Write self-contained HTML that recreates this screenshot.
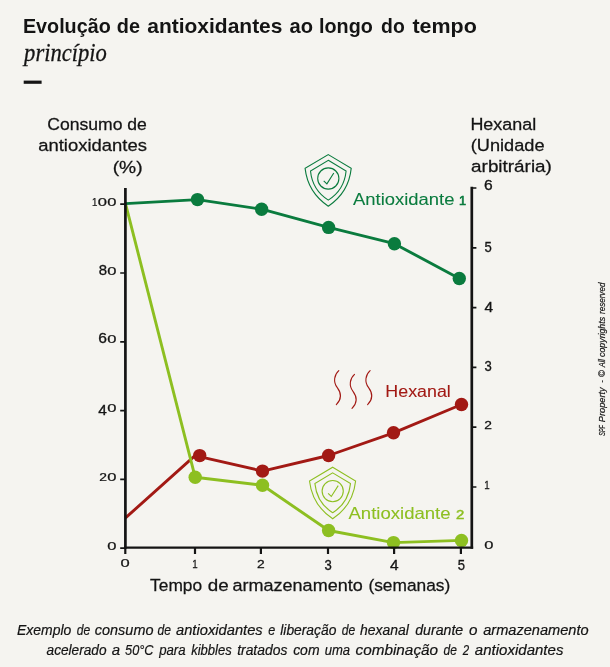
<!DOCTYPE html>
<html lang="pt"><head><meta charset="utf-8"><title>Evolução de antioxidantes ao longo do tempo</title>
<style>
html,body{margin:0;padding:0;background:#f5f4f0;}
body{width:610px;height:667px;overflow:hidden;font-family:"Liberation Sans",sans-serif;}
svg{display:block;will-change:transform}
text{font-family:"Liberation Sans",sans-serif;}
.serif{font-family:"Liberation Serif",serif;font-style:italic;}
.b{font-weight:bold}
.i{font-style:italic}
</style></head><body>
<svg width="610" height="667" viewBox="0 0 610 667">
<rect width="610" height="667" fill="#f5f4f0"/>

<text x="22.88" y="32.7" font-size="20.8" fill="#141414" textLength="87.89" lengthAdjust="spacingAndGlyphs" class="b">Evolução</text>
<text x="116.78" y="32.7" font-size="20.8" fill="#141414" textLength="23.19" lengthAdjust="spacingAndGlyphs" class="b">de</text>
<text x="147.29" y="32.7" font-size="20.8" fill="#141414" textLength="135.17" lengthAdjust="spacingAndGlyphs" class="b">antioxidantes</text>
<text x="289.61" y="32.7" font-size="20.8" fill="#141414" textLength="23.48" lengthAdjust="spacingAndGlyphs" class="b">ao</text>
<text x="319.02" y="32.7" font-size="20.8" fill="#141414" textLength="53.75" lengthAdjust="spacingAndGlyphs" class="b">longo</text>
<text x="381.11" y="32.7" font-size="20.8" fill="#141414" textLength="23.65" lengthAdjust="spacingAndGlyphs" class="b">do</text>
<text x="412.44" y="32.7" font-size="20.8" fill="#141414" textLength="64.40" lengthAdjust="spacingAndGlyphs" class="b">tempo</text>
<text x="24.12" y="61.1" font-size="25.5" fill="#141414" stroke="#141414" stroke-width="0.3" textLength="82.75" lengthAdjust="spacingAndGlyphs" class="serif">princípio</text>
<rect x="23.7" y="80.6" width="17.9" height="3.2" fill="#141414"/>
<text x="47.21" y="130.0" font-size="17.4" fill="#141414" stroke="#141414" stroke-width="0.27" textLength="99.67" lengthAdjust="spacingAndGlyphs">Consumo de</text>
<text x="38.22" y="151.1" font-size="17.4" fill="#141414" stroke="#141414" stroke-width="0.27" textLength="108.65" lengthAdjust="spacingAndGlyphs">antioxidantes</text>
<text x="112.71" y="172.5" font-size="17.4" fill="#141414" stroke="#141414" stroke-width="0.27" textLength="29.88" lengthAdjust="spacingAndGlyphs">(%)</text>
<text x="470.43" y="130.0" font-size="17.4" fill="#141414" stroke="#141414" stroke-width="0.27" textLength="65.77" lengthAdjust="spacingAndGlyphs">Hexanal</text>
<text x="470.77" y="151.1" font-size="17.4" fill="#141414" stroke="#141414" stroke-width="0.27" textLength="73.84" lengthAdjust="spacingAndGlyphs">(Unidade</text>
<text x="471.10" y="172.3" font-size="17.4" fill="#141414" stroke="#141414" stroke-width="0.27" textLength="80.77" lengthAdjust="spacingAndGlyphs">arbitrária)</text>
<polyline points="125.5,517.9 195.0,455.6 262.5,471.1 328.6,455.5 393.5,432.8 461.5,404.5" fill="none" stroke="#a21914" stroke-width="2.9" stroke-linejoin="round"/>
<polyline points="125.5,203.6 195.2,477.3 262.5,485.3 328.6,530.5 393.5,542.6 461.5,540.4" fill="none" stroke="#8dbf21" stroke-width="2.9" stroke-linejoin="round"/>
<polyline points="125.5,203.6 197.5,199.6 261.6,209.2 328.6,227.4 394.4,243.7 459.3,278.5" fill="none" stroke="#0a7b3e" stroke-width="2.9" stroke-linejoin="round"/>
<circle cx="195.2" cy="477.3" r="6.7" fill="#8dbf21"/><circle cx="262.5" cy="485.3" r="6.7" fill="#8dbf21"/><circle cx="328.6" cy="530.5" r="6.7" fill="#8dbf21"/><circle cx="393.5" cy="542.6" r="6.7" fill="#8dbf21"/><circle cx="461.5" cy="540.4" r="6.7" fill="#8dbf21"/>
<circle cx="199.7" cy="455.6" r="6.7" fill="#a21914"/><circle cx="262.5" cy="471.1" r="6.7" fill="#a21914"/><circle cx="328.6" cy="455.5" r="6.7" fill="#a21914"/><circle cx="393.5" cy="432.8" r="6.7" fill="#a21914"/><circle cx="461.5" cy="404.5" r="6.7" fill="#a21914"/>
<circle cx="197.5" cy="199.6" r="6.7" fill="#0a7b3e"/><circle cx="261.6" cy="209.2" r="6.7" fill="#0a7b3e"/><circle cx="328.6" cy="227.4" r="6.7" fill="#0a7b3e"/><circle cx="394.4" cy="243.7" r="6.7" fill="#0a7b3e"/><circle cx="459.3" cy="278.5" r="6.7" fill="#0a7b3e"/>
<path d="M125.4,188.1 V548.8000000000001 M471.8,186.8 V548.8000000000001" fill="none" stroke="#141414" stroke-width="2.7"/>
<path d="M124.05000000000001,547.7 H473.15000000000003" fill="none" stroke="#141414" stroke-width="2.2"/>
<path d="M120.2,204.2 H125.4 M120.2,273.0 H125.4 M120.2,341.8 H125.4 M120.2,410.6 H125.4 M120.2,479.4 H125.4 M120.2,548.2 H125.4 M471.8,188.0 H476.4 M471.8,247.8 H476.4 M471.8,307.6 H476.4 M471.8,367.4 H476.4 M471.8,427.2 H476.4 M471.8,487.0 H476.4" fill="none" stroke="#141414" stroke-width="1.7"/>
<path d="M125.3,547.7 V553.9 M195,547.7 V553.9 M260.9,547.7 V553.9 M328,547.7 V553.9 M394.1,547.7 V553.9 M460.9,547.7 V553.9" fill="none" stroke="#141414" stroke-width="2.2"/>
<text transform="matrix(0.9741,0,0,1.0901,92.06,205.90)" font-size="10" fill="#141414" stroke="#141414" stroke-width="0.22">1</text><text transform="matrix(1.6526,0,0,1.0593,97.80,205.80)" font-size="10" fill="#141414" stroke="#141414" stroke-width="0.22">0</text><text transform="matrix(1.6526,0,0,1.0593,107.15,205.80)" font-size="10" fill="#141414" stroke="#141414" stroke-width="0.22">0</text>
<text transform="matrix(1.4918,0,0,1.4265,98.70,274.56)" font-size="10" fill="#141414" stroke="#141414" stroke-width="0.22">8</text><text transform="matrix(1.6526,0,0,1.0593,107.15,274.60)" font-size="10" fill="#141414" stroke="#141414" stroke-width="0.22">0</text>
<text transform="matrix(1.5604,0,0,1.4265,98.36,343.36)" font-size="10" fill="#141414" stroke="#141414" stroke-width="0.22">6</text><text transform="matrix(1.6526,0,0,1.0593,107.15,343.40)" font-size="10" fill="#141414" stroke="#141414" stroke-width="0.22">0</text>
<text transform="matrix(1.5479,0,0,1.4971,98.19,414.70)" font-size="10" fill="#141414" stroke="#141414" stroke-width="0.22">4</text><text transform="matrix(1.6526,0,0,1.0593,107.15,412.20)" font-size="10" fill="#141414" stroke="#141414" stroke-width="0.22">0</text>
<text transform="matrix(1.3829,0,0,1.0741,99.35,481.10)" font-size="10" fill="#141414" stroke="#141414" stroke-width="0.22">2</text><text transform="matrix(1.6526,0,0,1.0593,107.15,481.00)" font-size="10" fill="#141414" stroke="#141414" stroke-width="0.22">0</text>
<text transform="matrix(1.6526,0,0,1.0593,107.15,549.80)" font-size="10" fill="#141414" stroke="#141414" stroke-width="0.22">0</text>
<text transform="matrix(1.5604,0,0,1.4265,484.11,189.61)" font-size="10" fill="#141414" stroke="#141414" stroke-width="0.22">6</text>
<text transform="matrix(1.3077,0,0,1.4762,484.38,251.81)" font-size="10" fill="#141414" stroke="#141414" stroke-width="0.22">5</text>
<text transform="matrix(1.5479,0,0,1.4971,484.54,311.75)" font-size="10" fill="#141414" stroke="#141414" stroke-width="0.22">4</text>
<text transform="matrix(1.3077,0,0,1.4548,484.40,371.41)" font-size="10" fill="#141414" stroke="#141414" stroke-width="0.22">3</text>
<text transform="matrix(1.3829,0,0,1.1457,484.20,428.95)" font-size="10" fill="#141414" stroke="#141414" stroke-width="0.22">2</text>
<text transform="matrix(0.9741,0,0,1.1628,484.16,488.75)" font-size="10" fill="#141414" stroke="#141414" stroke-width="0.22">1</text>
<text transform="matrix(1.6526,0,0,1.1299,484.25,548.84)" font-size="10" fill="#141414" stroke="#141414" stroke-width="0.22">0</text>
<text transform="matrix(1.6526,0,0,1.1299,120.50,567.39)" font-size="10" fill="#141414" stroke="#141414" stroke-width="0.22">0</text>
<text transform="matrix(0.9741,0,0,1.1628,192.26,567.50)" font-size="10" fill="#141414" stroke="#141414" stroke-width="0.22">1</text>
<text transform="matrix(1.3829,0,0,1.1457,257.05,567.50)" font-size="10" fill="#141414" stroke="#141414" stroke-width="0.22">2</text>
<text transform="matrix(1.3077,0,0,1.4548,324.40,569.76)" font-size="10" fill="#141414" stroke="#141414" stroke-width="0.22">3</text>
<text transform="matrix(1.5479,0,0,1.4971,389.94,569.90)" font-size="10" fill="#141414" stroke="#141414" stroke-width="0.22">4</text>
<text transform="matrix(1.3077,0,0,1.4762,457.78,569.76)" font-size="10" fill="#141414" stroke="#141414" stroke-width="0.22">5</text>
<text x="150.12" y="591.0" font-size="17.4" fill="#141414" stroke="#141414" stroke-width="0.27" textLength="51.98" lengthAdjust="spacingAndGlyphs">Tempo</text>
<text x="207.71" y="591.0" font-size="17.4" fill="#141414" stroke="#141414" stroke-width="0.27" textLength="20.93" lengthAdjust="spacingAndGlyphs">de</text>
<text x="232.53" y="591.0" font-size="17.4" fill="#141414" stroke="#141414" stroke-width="0.27" textLength="130.22" lengthAdjust="spacingAndGlyphs">armazenamento</text>
<text x="368.43" y="591.0" font-size="17.4" fill="#141414" stroke="#141414" stroke-width="0.27" textLength="81.85" lengthAdjust="spacingAndGlyphs">(semanas)</text>
<text x="353.06" y="205.4" font-size="16.5" fill="#0a7b3e" stroke="#0a7b3e" stroke-width="0.08" textLength="101.46" lengthAdjust="spacingAndGlyphs">Antioxidante</text>
<text transform="matrix(1.2757,0,0,1.2355,458.93,205.40)" font-size="10" fill="#0a7b3e" stroke="#0a7b3e" stroke-width="0.5">1</text>
<text x="385.34" y="396.5" font-size="16.5" fill="#a21914" stroke="#a21914" stroke-width="0.08" textLength="65.46" lengthAdjust="spacingAndGlyphs">Hexanal</text>
<text x="348.46" y="518.6" font-size="16.5" fill="#8dbf21" stroke="#8dbf21" stroke-width="0.08" textLength="102.16" lengthAdjust="spacingAndGlyphs">Antioxidante</text>
<text transform="matrix(1.4926,0,0,1.2746,456.05,518.60)" font-size="10" fill="#8dbf21" stroke="#8dbf21" stroke-width="0.35">2</text>
<g transform="translate(0,0)" fill="none" stroke="#0a7b3e" stroke-width="1.1" stroke-linejoin="miter">
<path d="M328.3,154.6 L351.2,168.4 C349.5,185 342,197 328.3,206.2 C314.6,197 307,185 305.1,168.4 Z"/>
<path d="M328.3,160.3 L346.1,171 C344.8,184 338.8,193.5 328.3,200.1 C317.8,193.5 311.8,184 310.5,171 Z"/>
<circle cx="328.3" cy="178.5" r="10.6"/>
<path d="M323.7,180.8 L326.9,183.9 L333.8,173"/>
</g>
<g transform="translate(4.4,312.6)" fill="none" stroke="#8dbf21" stroke-width="1.1" stroke-linejoin="miter">
<path d="M328.3,154.6 L351.2,168.4 C349.5,185 342,197 328.3,206.2 C314.6,197 307,185 305.1,168.4 Z"/>
<path d="M328.3,160.3 L346.1,171 C344.8,184 338.8,193.5 328.3,200.1 C317.8,193.5 311.8,184 310.5,171 Z"/>
<circle cx="328.3" cy="178.5" r="10.6"/>
<path d="M323.7,180.8 L326.9,183.9 L333.8,173"/>
</g>
<g fill="none" stroke="#a21914" stroke-width="1.1" stroke-linecap="round"><path d="M338.8,370.7 c-4.5,4 -6,11 -1.5,17 c4.5,6 4,12 -1,17"/><path d="M354.5,374.4 c-4.5,4 -6,11 -1.5,17 c4.5,6 4,12 -1,17"/><path d="M370.1,370.7 c-4.5,4 -6,11 -1.5,17 c4.5,6 4,12 -1,17"/></g>
<text x="17.07" y="635.1" font-size="14.5" fill="#141414" stroke="#141414" stroke-width="0.2" textLength="54.27" lengthAdjust="spacingAndGlyphs" class="i">Exemplo</text>
<text x="76.79" y="635.1" font-size="14.5" fill="#141414" stroke="#141414" stroke-width="0.2" textLength="13.46" lengthAdjust="spacingAndGlyphs" class="i">de</text>
<text x="94.83" y="635.1" font-size="14.5" fill="#141414" stroke="#141414" stroke-width="0.2" textLength="58.63" lengthAdjust="spacingAndGlyphs" class="i">consumo</text>
<text x="157.59" y="635.1" font-size="14.5" fill="#141414" stroke="#141414" stroke-width="0.2" textLength="13.46" lengthAdjust="spacingAndGlyphs" class="i">de</text>
<text x="175.97" y="635.1" font-size="14.5" fill="#141414" stroke="#141414" stroke-width="0.2" textLength="86.73" lengthAdjust="spacingAndGlyphs" class="i">antioxidantes</text>
<text x="268.18" y="635.1" font-size="14.5" fill="#141414" stroke="#141414" stroke-width="0.2" textLength="6.99" lengthAdjust="spacingAndGlyphs" class="i">e</text>
<text x="280.28" y="635.1" font-size="14.5" fill="#141414" stroke="#141414" stroke-width="0.2" textLength="56.06" lengthAdjust="spacingAndGlyphs" class="i">liberação</text>
<text x="341.79" y="635.1" font-size="14.5" fill="#141414" stroke="#141414" stroke-width="0.2" textLength="13.46" lengthAdjust="spacingAndGlyphs" class="i">de</text>
<text x="360.07" y="635.1" font-size="14.5" fill="#141414" stroke="#141414" stroke-width="0.2" textLength="48.82" lengthAdjust="spacingAndGlyphs" class="i">hexanal</text>
<text x="415.22" y="635.1" font-size="14.5" fill="#141414" stroke="#141414" stroke-width="0.2" textLength="48.00" lengthAdjust="spacingAndGlyphs" class="i">durante</text>
<text x="469.00" y="635.1" font-size="14.5" fill="#141414" stroke="#141414" stroke-width="0.2" textLength="8.48" lengthAdjust="spacingAndGlyphs" class="i">o</text>
<text x="483.17" y="635.1" font-size="14.5" fill="#141414" stroke="#141414" stroke-width="0.2" textLength="105.49" lengthAdjust="spacingAndGlyphs" class="i">armazenamento</text>
<text x="46.59" y="655.1" font-size="14.5" fill="#141414" stroke="#141414" stroke-width="0.2" textLength="59.94" lengthAdjust="spacingAndGlyphs" class="i">acelerado</text>
<text x="111.76" y="655.1" font-size="14.5" fill="#141414" stroke="#141414" stroke-width="0.2" textLength="8.35" lengthAdjust="spacingAndGlyphs" class="i">a</text>
<text x="125.11" y="655.1" font-size="14.5" fill="#141414" stroke="#141414" stroke-width="0.2" textLength="28.42" lengthAdjust="spacingAndGlyphs" class="i">50°C</text>
<text x="159.13" y="655.1" font-size="14.5" fill="#141414" stroke="#141414" stroke-width="0.2" textLength="26.42" lengthAdjust="spacingAndGlyphs" class="i">para</text>
<text x="191.18" y="655.1" font-size="14.5" fill="#141414" stroke="#141414" stroke-width="0.2" textLength="40.58" lengthAdjust="spacingAndGlyphs" class="i">kibbles</text>
<text x="237.17" y="655.1" font-size="14.5" fill="#141414" stroke="#141414" stroke-width="0.2" textLength="50.22" lengthAdjust="spacingAndGlyphs" class="i">tratados</text>
<text x="293.14" y="655.1" font-size="14.5" fill="#141414" stroke="#141414" stroke-width="0.2" textLength="26.41" lengthAdjust="spacingAndGlyphs" class="i">com</text>
<text x="324.65" y="655.1" font-size="14.5" fill="#141414" stroke="#141414" stroke-width="0.2" textLength="25.50" lengthAdjust="spacingAndGlyphs" class="i">uma</text>
<text x="355.50" y="655.1" font-size="14.5" fill="#141414" stroke="#141414" stroke-width="0.2" textLength="82.59" lengthAdjust="spacingAndGlyphs" class="i">combinação</text>
<text x="443.50" y="655.1" font-size="14.5" fill="#141414" stroke="#141414" stroke-width="0.2" textLength="13.35" lengthAdjust="spacingAndGlyphs" class="i">de</text>
<text x="462.77" y="655.1" font-size="14.5" fill="#141414" stroke="#141414" stroke-width="0.2" textLength="6.40" lengthAdjust="spacingAndGlyphs" class="i">2</text>
<text x="474.86" y="655.1" font-size="14.5" fill="#141414" stroke="#141414" stroke-width="0.2" textLength="88.55" lengthAdjust="spacingAndGlyphs" class="i">antioxidantes</text>
<g transform="translate(604.9,435.5) rotate(-90)"><text x="-0.15" y="0" font-size="9" fill="#141414" stroke="#141414" stroke-width="0.2" textLength="10.60" lengthAdjust="spacingAndGlyphs" class="i">SPF</text><text x="13.32" y="0" font-size="9" fill="#141414" stroke="#141414" stroke-width="0.2" textLength="34.82" lengthAdjust="spacingAndGlyphs" class="i">Property</text><text x="52.72" y="0" font-size="9" fill="#141414" stroke="#141414" stroke-width="0.2" textLength="2.44" lengthAdjust="spacingAndGlyphs" class="i">-</text><text x="58.30" y="0" font-size="9" fill="#141414" stroke="#141414" stroke-width="0.2" textLength="7.20" lengthAdjust="spacingAndGlyphs" class="i">©</text><text x="68.17" y="0" font-size="9" fill="#141414" stroke="#141414" stroke-width="0.2" textLength="8.36" lengthAdjust="spacingAndGlyphs" class="i">All</text><text x="78.61" y="0" font-size="9" fill="#141414" stroke="#141414" stroke-width="0.2" textLength="39.97" lengthAdjust="spacingAndGlyphs" class="i">copyrights</text><text x="121.47" y="0" font-size="9" fill="#141414" stroke="#141414" stroke-width="0.2" textLength="31.42" lengthAdjust="spacingAndGlyphs" class="i">reserved</text></g>
</svg></body></html>
